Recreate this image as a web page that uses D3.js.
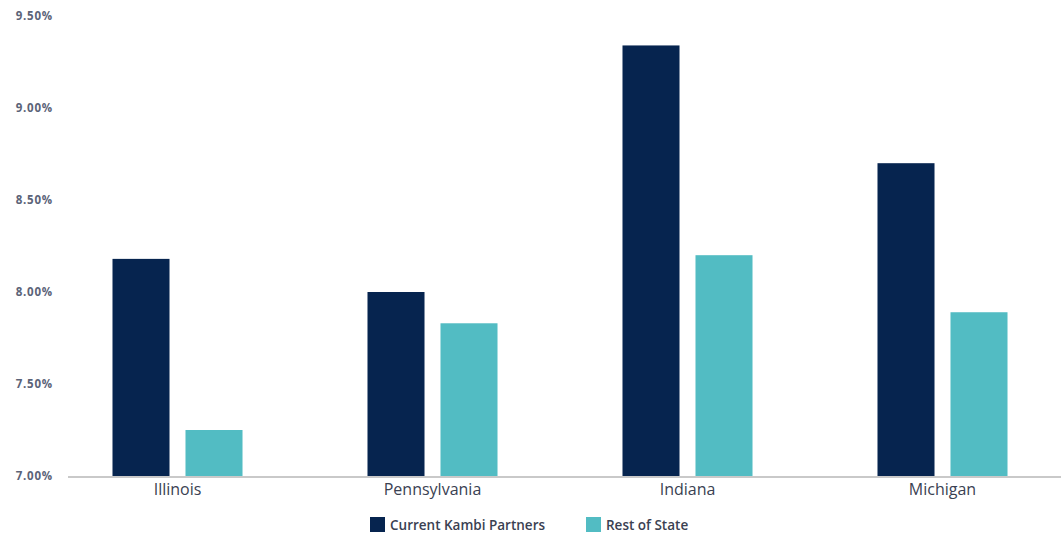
<!DOCTYPE html>
<html>
<head>
<meta charset="utf-8">
<script src="https://cdn.jsdelivr.net/npm/d3@7"></script>
<style>
  html, body { margin: 0; padding: 0; background: #fff; }
  svg { display: block; font-family: "Open Sans", sans-serif; }
</style>
</head>
<body>
<script>
const states = ["Illinois", "Pennsylvania", "Indiana", "Michigan"];
const series = ["Current Kambi Partners", "Rest of State"];
const kambi = [8.18, 8.00, 9.34, 8.70];
const restOfState = [7.25, 7.83, 8.20, 7.89];
const yTicks = [7.0, 7.5, 8.0, 8.5, 9.0, 9.5];
const colors = ["#06244f", "#52bcc3"];

const width = 1061, height = 537;
const svg = d3.select("body").append("svg").attr("width", width).attr("height", height);

// scales
const x0 = d3.scaleBand().domain(states).range([50, 1070]);
const x1 = d3.scaleBand().domain(series).range([0, x0.bandwidth()])
  .paddingInner(0.219).paddingOuter(0.856);
const y = d3.scaleLinear().domain([7, 9.5]).range([476, 16]);

// y labels
const yAxis = d3.axisLeft(y).tickValues(yTicks).tickSize(0).tickPadding(0)
  .tickFormat(d => d.toFixed(2) + "%");
const gy = svg.append("g").attr("transform", "translate(53,0)").call(yAxis);
gy.select(".domain").remove();
gy.selectAll("text").attr("fill", "#5b6378").attr("font-size", 11.5)
  .attr("font-weight", "bold").attr("letter-spacing", 0.8)
  .attr("font-family", "'Open Sans', sans-serif");

// bars
const rows = states.map((s, i) => ({state: s, values: [kambi[i], restOfState[i]]}));
const groups = svg.append("g").selectAll("g").data(rows).join("g")
  .attr("transform", d => `translate(${x0(d.state)},0)`);
groups.selectAll("rect")
  .data(d => d.values.map((v, j) => ({key: series[j], value: v, j})))
  .join("rect")
  .attr("x", d => x1(d.key))
  .attr("width", x1.bandwidth())
  .attr("y", d => y(d.value))
  .attr("height", d => y(7) - y(d.value))
  .attr("fill", d => colors[d.j]);

// x axis
const xAxis = d3.axisBottom(x0).tickSize(0).tickPadding(8);
const gx = svg.append("g").attr("transform", `translate(0,${y(7)})`).call(xAxis);
gx.select(".domain").remove();
gx.selectAll("text").attr("fill", "#3a4152").attr("font-size", 16)
  .attr("font-family", "'Open Sans', sans-serif");
svg.append("line").attr("x1", 68).attr("x2", width)
  .attr("y1", y(7) + 1).attr("y2", y(7) + 1)
  .attr("stroke", "#c9c9c9").attr("stroke-width", 2);

// legend
const legendX = [370, 586];
const legend = svg.append("g").selectAll("g").data(series).join("g")
  .attr("transform", (d, i) => `translate(${legendX[i]},517)`);
legend.append("rect").attr("width", 15).attr("height", 15)
  .attr("fill", (d, i) => colors[i]);
legend.append("text").attr("x", 20).attr("y", 12.5)
  .attr("font-size", 13.5).attr("font-weight", 600)
  .attr("fill", "#3a4152").text(d => d);
</script>
</body>
</html>
